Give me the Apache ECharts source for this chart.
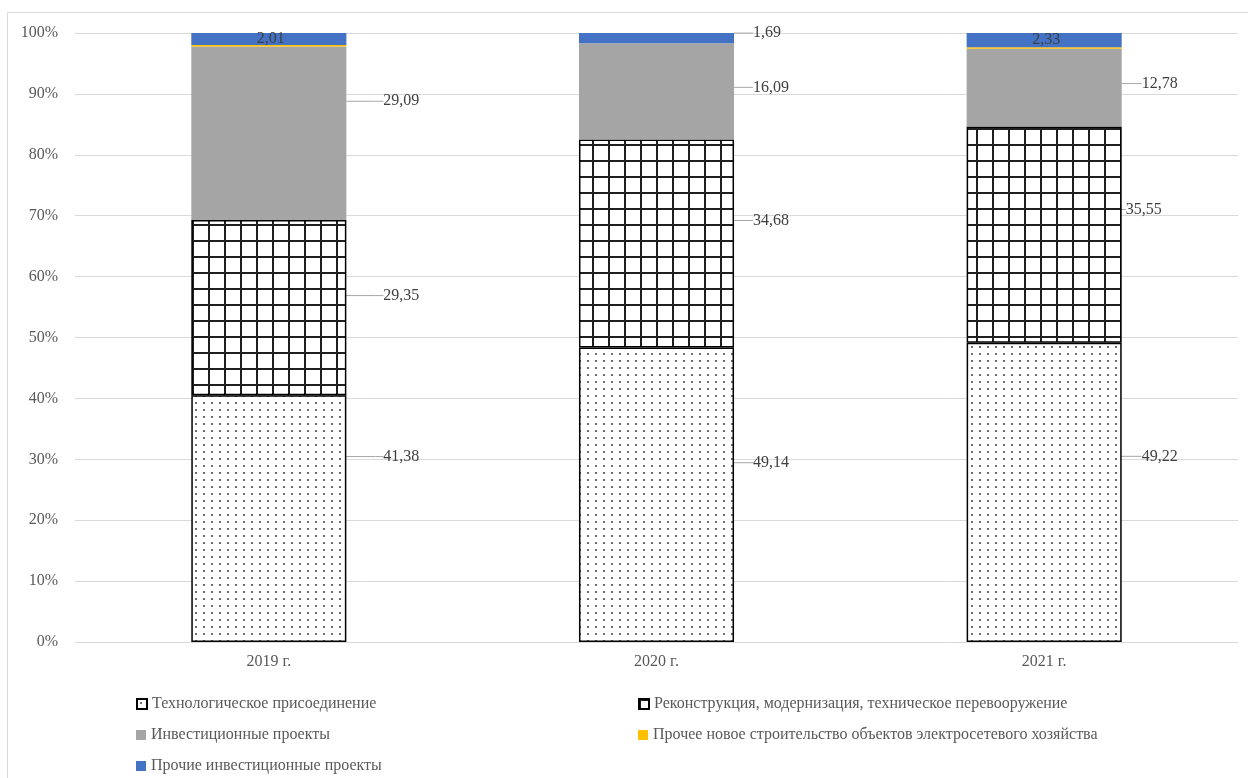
<!DOCTYPE html>
<html>
<head>
<meta charset="utf-8">
<script src="https://cdn.jsdelivr.net/npm/echarts@6/dist/echarts.min.js"></script>
<style>
  html, body { margin: 0; padding: 0; background: #fff; }
  #chart { width: 1248px; height: 778px; }
</style>
</head>
<body>
<div id="chart"></div>
<script>
// данные
var years = ["2019 г.", "2020 г.", "2021 г."];
var seriesNames = [
  "Технологическое присоединение",
  "Реконструкция, модернизация, техническое перевооружение",
  "Инвестиционные проекты",
  "Прочее новое строительство объектов электросетевого хозяйства",
  "Прочие инвестиционные проекты"
];
var techConn = [41.38, 49.14, 49.22];
var reconstr = [29.35, 34.68, 35.55];
var invest = [29.09, 16.09, 12.78];
var otherBuild = [0.25, 0, 0.25];
var otherInvest = [2.01, 1.69, 2.33];
var yTicks = [0, 10, 20, 30, 40, 50, 60, 70, 80, 90, 100];

var raw = [techConn, reconstr, invest, otherBuild, otherInvest];

// сдвиги подписей (dx от правого края столбца, dy от центра сегмента)
var labelDx = [[37, 19, 20], [37, 19, 4], [37, 19, 20], null, [null, 19, null]];
var labelDy = [[-62, -32, -36], [-12, -23, -25], [-32, -4, -4], null, [0, -5, 0]];

function dotsPattern() {
  var c = document.createElement("canvas");
  c.width = 8; c.height = 7;
  var ctx = c.getContext("2d");
  ctx.fillStyle = "#fff";
  ctx.fillRect(0, 0, 8, 7);
  ctx.fillStyle = "#6f6f6f";
  ctx.fillRect(3, 3, 2, 2);
  return c;
}
function gridPattern() {
  var c = document.createElement("canvas");
  c.width = 16; c.height = 16;
  var ctx = c.getContext("2d");
  ctx.fillStyle = "#fff";
  ctx.fillRect(0, 0, 16, 16);
  ctx.fillStyle = "#1f1f1f";
  ctx.fillRect(0, 0, 16, 2);
  ctx.fillRect(0, 0, 2, 16);
  return c;
}

var totals = years.map(function (y, i) {
  return raw.reduce(function (s, arr) { return s + arr[i]; }, 0);
});

function fmt(v) { return v.toFixed(2).replace(".", ","); }

var styles = [
  { color: { image: dotsPattern(), repeat: "repeat" }, borderColor: "#000", borderWidth: 1.5 },
  { color: { image: gridPattern(), repeat: "repeat" }, borderColor: "#000", borderWidth: 1.5 },
  { color: "#a5a5a5" },
  { color: "#ffc000" },
  { color: "#4472c4" }
];

var font = "'Liberation Serif', 'Times New Roman', serif";

var series = raw.map(function (arr, si) {
  return {
    name: seriesNames[si],
    type: "bar",
    stack: "total",
    barWidth: "40%",
    itemStyle: styles[si],
    data: arr.map(function (v, i) {
      var item = { value: v / totals[i] * 100 };
      var inside = si === 4 && labelDx[4][i] === null;
      if (si === 3) {
        item.label = { show: false };
      } else if (inside) {
        item.label = { show: true, position: "inside" };
        item.labelLine = { show: false };
      }
      return item;
    }),
    label: {
      show: si !== 3,
      position: "right",
      color: "#404040",
      fontFamily: font,
      fontSize: 16,
      padding: [0, 0, 0, 4],
      formatter: function (p) { return fmt(raw[si][p.dataIndex]); }
    },
    labelLine: {
      show: si !== 3,
      length2: 8,
      lineStyle: { color: "#a6a6a6", width: 1 }
    },
    labelLayout: function (p) {
      if (si === 3) return {};
      var dx = labelDx[si][p.dataIndex];
      if (dx === null) return {};
      return {
        x: p.rect.x + p.rect.width + dx - 4,
        y: p.rect.y + p.rect.height / 2 + labelDy[si][p.dataIndex],
        align: "left",
        verticalAlign: "middle"
      };
    }
  };
});

// позиции элементов легенды (две колонки)
var legendPos = [[131, 691], [633, 691], [131, 722], [633, 722], [131, 753]];
var legends = seriesNames.map(function (n, i) {
  return {
    left: legendPos[i][0],
    top: legendPos[i][1],
    itemWidth: 10,
    itemHeight: 10,
    icon: "rect",
    data: [n],
    textStyle: { color: "#595959", fontSize: 16, lineHeight: 16, fontFamily: font }
  };
});

var chart = echarts.init(document.getElementById("chart"));
chart.setOption({
  animation: false,
  backgroundColor: "#fff",
  textStyle: { fontFamily: font },
  graphic: [{
    type: "rect",
    shape: { x: 7.5, y: 12.5, width: 1300, height: 900 },
    style: { fill: "none", stroke: "#d9d9d9", lineWidth: 1 },
    silent: true
  }],
  grid: { left: 75, right: 10, top: 33, bottom: 136 },
  legend: legends,
  xAxis: {
    type: "category",
    data: years,
    axisLine: { lineStyle: { color: "#d9d9d9" } },
    axisTick: { show: false },
    axisLabel: { color: "#595959", fontSize: 16, fontFamily: font, margin: 12 }
  },
  yAxis: {
    type: "value",
    min: yTicks[0],
    max: yTicks[yTicks.length - 1],
    interval: yTicks[1] - yTicks[0],
    axisLine: { show: false },
    axisTick: { show: false },
    splitLine: { lineStyle: { color: "#d9d9d9" } },
    axisLabel: { color: "#595959", fontSize: 16, fontFamily: font, margin: 17, formatter: "{value}%" }
  },
  series: series
});
</script>
</body>
</html>
